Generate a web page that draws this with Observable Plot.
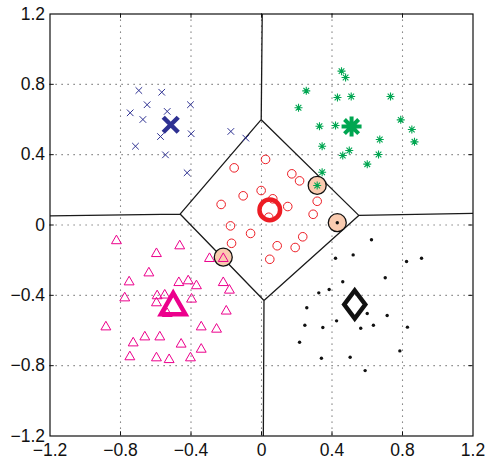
<!DOCTYPE html>
<html><head><meta charset="utf-8">
<script src="https://cdn.jsdelivr.net/npm/d3@7"></script>
<script src="https://cdn.jsdelivr.net/npm/@observablehq/plot@0.6"></script>
<style>body{margin:0;background:#fff}</style>
</head><body><div id="chart"></div>
<script>
// ---- data ----
const xTicks = [-1.2, -0.8, -0.4, 0, 0.4, 0.8, 1.2];
const yTicks = [-1.2, -0.8, -0.4, 0, 0.4, 0.8, 1.2];
const gridTicks = [-0.8, -0.4, 0, 0.4, 0.8];

const bluePts = [[-0.696,0.765],[-0.566,0.755],[-0.649,0.684],[-0.745,0.638],[-0.535,0.646],[-0.673,0.600],[-0.403,0.684],[-0.573,0.503],[-0.399,0.519],[-0.715,0.448],[-0.545,0.399],[-0.174,0.532],[-0.089,0.494],[-0.422,0.297]];
const greenPts = [[0.454,0.875],[0.477,0.839],[0.254,0.763],[0.431,0.725],[0.509,0.731],[0.732,0.731],[0.210,0.667],[0.329,0.562],[0.420,0.566],[0.790,0.598],[0.853,0.543],[0.868,0.473],[0.671,0.486],[0.344,0.448],[0.498,0.424],[0.461,0.395],[0.664,0.401],[0.600,0.346],[0.344,0.300],[0.316,0.225]];
const redPts = [[0.023,0.373],[-0.155,0.325],[0.172,0.291],[0.216,0.251],[-0.002,0.196],[-0.104,0.166],[0.064,0.149],[-0.229,0.117],[0.149,0.105],[0.316,0.135],[0.293,0.061],[0.041,0.044],[-0.176,-0.005],[-0.062,-0.048],[0.234,-0.067],[-0.170,-0.104],[0.089,-0.118],[0.191,-0.128],[0.047,-0.195]];
const magentaPts = [[-0.823,-0.082],[-0.596,-0.155],[-0.464,-0.111],[-0.295,-0.183],[-0.217,-0.183],[-0.639,-0.265],[-0.751,-0.316],[-0.469,-0.320],[-0.416,-0.310],[-0.369,-0.338],[-0.217,-0.320],[-0.182,-0.363],[-0.776,-0.407],[-0.592,-0.395],[-0.549,-0.391],[-0.596,-0.435],[-0.397,-0.414],[-0.535,-0.496],[-0.200,-0.482],[-0.883,-0.572],[-0.342,-0.572],[-0.255,-0.585],[-0.662,-0.629],[-0.577,-0.629],[-0.728,-0.663],[-0.456,-0.670],[-0.342,-0.699],[-0.747,-0.742],[-0.596,-0.748],[-0.524,-0.758],[-0.403,-0.748]];
const blackPts = [[0.430,0.013],[0.624,-0.084],[0.420,-0.189],[0.520,-0.170],[0.823,-0.208],[0.908,-0.189],[0.702,-0.300],[0.461,-0.323],[0.384,-0.367],[0.325,-0.386],[0.257,-0.471],[0.600,-0.503],[0.713,-0.515],[0.426,-0.545],[0.246,-0.570],[0.348,-0.583],[0.563,-0.587],[0.635,-0.570],[0.828,-0.581],[0.216,-0.667],[0.785,-0.716],[0.340,-0.758],[0.503,-0.752],[0.588,-0.828]];
const highlighted = [[0.316,0.225],[0.430,0.013],[-0.217,-0.183]];
const centerBlue = [[-0.515,0.570]];
const centerGreen = [[0.511,0.560]];
const centerRed = [[0.047,0.086]];
const centerMagenta = [[-0.501,-0.447]];
const centerBlack = [[0.529,-0.452]];
const centers = [...centerBlue, ...centerGreen, ...centerRed, ...centerMagenta, ...centerBlack];

// ---- custom marker shapes ----
const sym = f => ({draw(c, size) { f(c, Math.sqrt(size / Math.PI)); }});
const symX = sym((c, r) => { c.moveTo(-r,-r); c.lineTo(r,r); c.moveTo(-r,r); c.lineTo(r,-r); });
const symStar = sym((c, r) => { const d = r*Math.SQRT1_2;
  c.moveTo(0,-r); c.lineTo(0,r); c.moveTo(-r,0); c.lineTo(r,0);
  c.moveTo(-d,-d); c.lineTo(d,d); c.moveTo(-d,d); c.lineTo(d,-d); });
const symTri = sym((c, r) => { const w = r*1.15; c.moveTo(0,-r); c.lineTo(w,r); c.lineTo(-w,r); c.closePath(); });
const symDiamond = sym((c, r) => { const w = r*0.75; c.moveTo(0,-r); c.lineTo(w,0); c.lineTo(0,r); c.lineTo(-w,0); c.closePath(); });

const BLUE = "#2e3192", GREEN = "#00a651", RED = "#ed1c24", MAG = "#ec008c", PEACH = "#f9cbb0";
const fmt = d => d === 0 ? "0" : (d < 0 ? "\u2212" : "") + Math.abs(d).toFixed(1);
const X = d => d[0], Y = d => d[1];
const tl = 0.024;

const chart = Plot.plot({
  width: 489, height: 460,
  marginLeft: 49.5, marginRight: 16.5, marginTop: 13.5, marginBottom: 24.5,
  x: {domain: [-1.2, 1.2]}, y: {domain: [-1.2, 1.2]},
  style: {fontFamily: "'Liberation Sans', Arial, sans-serif", background: "#fff", color: "#111"},
  marks: [
    Plot.ruleX(gridTicks, {x: d => d, stroke: "#666", strokeWidth: 1.1, strokeDasharray: "1.2,4.8"}),
    Plot.ruleY(gridTicks, {y: d => d, stroke: "#666", strokeWidth: 1.1, strokeDasharray: "1.2,4.8"}),
    Plot.ruleX(gridTicks, {x: d => d, y1: -1.2, y2: -1.2 + tl, stroke: "#111"}),
    Plot.ruleX(gridTicks, {x: d => d, y1: 1.2, y2: 1.2 - tl, stroke: "#111"}),
    Plot.ruleY(gridTicks, {y: d => d, x1: -1.2, x2: -1.2 + tl, stroke: "#111"}),
    Plot.ruleY(gridTicks, {y: d => d, x1: 1.2, x2: 1.2 - tl, stroke: "#111"}),
    Plot.voronoiMesh(centers, {x: X, y: Y, stroke: "#1a1a1a", strokeWidth: 1.3, strokeOpacity: 1}),
    Plot.dot(highlighted, {x: X, y: Y, r: 9, fill: PEACH, stroke: "#111", strokeWidth: 1.3}),
    Plot.dot(bluePts, {x: X, y: Y, symbol: symX, r: 3.3, fill: "none", stroke: BLUE, strokeWidth: 1}),
    Plot.dot(greenPts, {x: X, y: Y, symbol: symStar, r: 4, fill: "none", stroke: GREEN, strokeWidth: 1.1}),
    Plot.dot(redPts, {x: X, y: Y, r: 4.3, fill: "none", stroke: RED, strokeWidth: 1}),
    Plot.dot(magentaPts, {x: X, y: Y, symbol: symTri, r: 4.3, fill: "none", stroke: MAG, strokeWidth: 1}),
    Plot.dot(blackPts, {x: X, y: Y, r: 1.7, fill: "#111", stroke: "none"}),
    Plot.dot(centerBlue, {x: X, y: Y, symbol: symX, r: 7.5, fill: "none", stroke: BLUE, strokeWidth: 4.5}),
    Plot.dot(centerGreen, {x: X, y: Y, symbol: symStar, r: 10, fill: "none", stroke: GREEN, strokeWidth: 4}),
    Plot.dot(centerRed, {x: X, y: Y, r: 10.3, fill: "none", stroke: RED, strokeWidth: 4.5}),
    Plot.dot(centerMagenta, {x: X, y: Y, symbol: symTri, r: 10.6, fill: "none", stroke: MAG, strokeWidth: 4.5, strokeLinejoin: "miter"}),
    Plot.dot(centerBlack, {x: X, y: Y, symbol: symDiamond, r: 14, fill: "none", stroke: "#111", strokeWidth: 4.5, strokeLinejoin: "miter"}),
    Plot.axisX(xTicks, {anchor: "bottom", tickSize: 0, tickPadding: 8, tickFormat: fmt, fontSize: 17.5, label: null}),
    Plot.axisY(yTicks, {anchor: "left", tickSize: 0, tickPadding: 5, tickFormat: fmt, fontSize: 17.5, label: null}),
    Plot.frame({stroke: "#111", strokeWidth: 1.2})
  ]
});
document.getElementById("chart").appendChild(chart);
</script>
</body></html>
